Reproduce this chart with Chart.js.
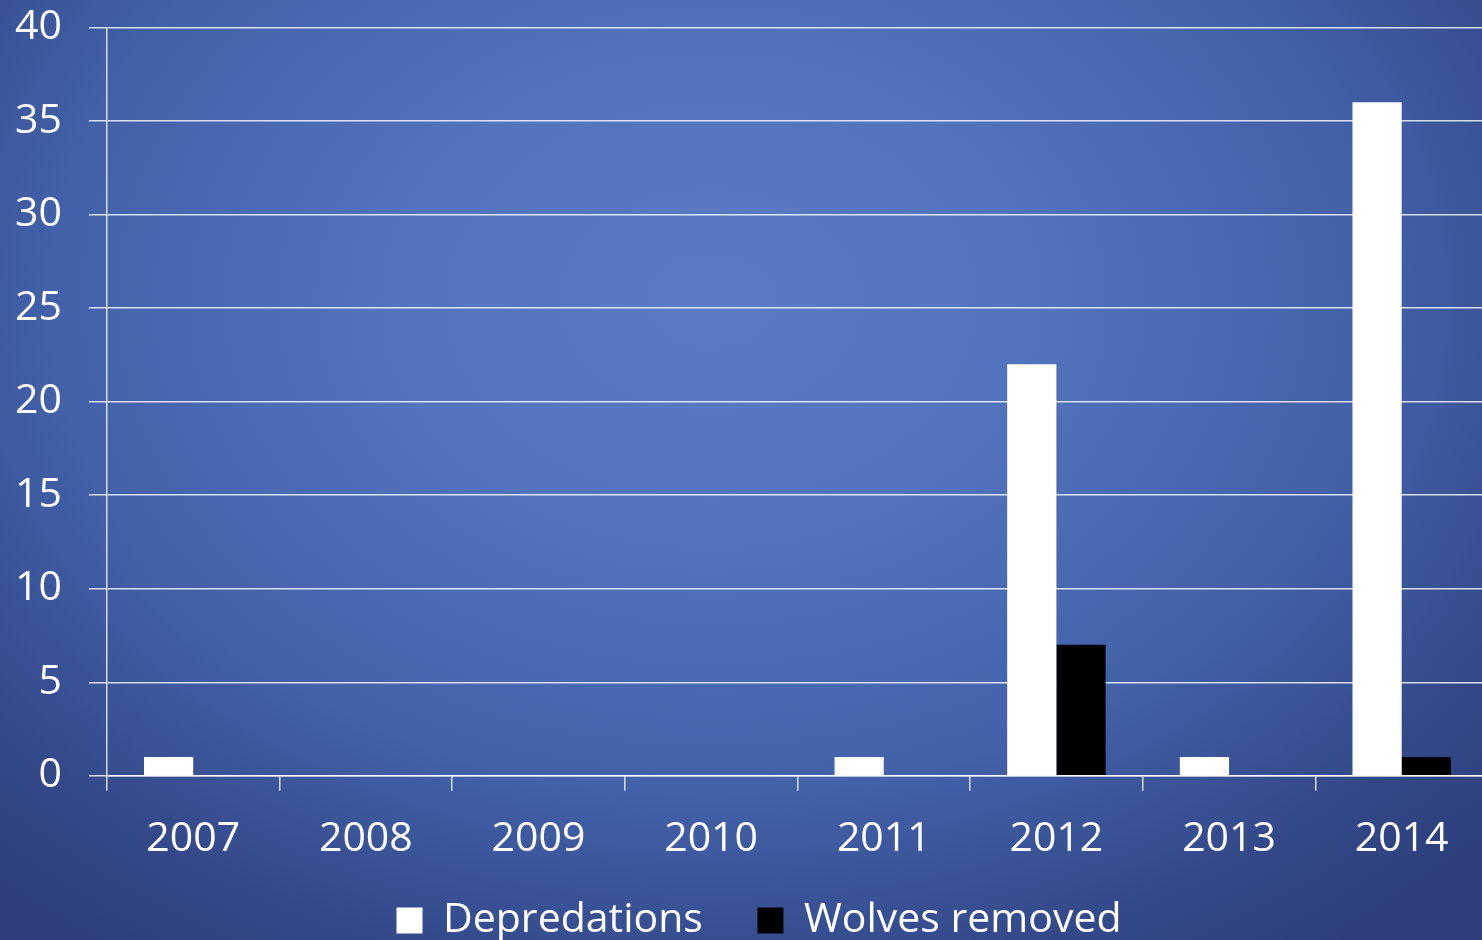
<!DOCTYPE html>
<html>
<head>
<meta charset="utf-8">
<script src="https://cdn.jsdelivr.net/npm/chart.js@4.4.0/dist/chart.umd.min.js"></script>
<style>
  html, body { margin: 0; padding: 0; }
  body {
    width: 1482px; height: 940px; overflow: hidden;
    background: radial-gradient(ellipse 72% 85% at 48% 32%, #5a7bc4 0%, #5273bd 30%, #4261a9 62%, #34498a 85%, #2c3f7c 100%);
  }
  /* plot area runs slightly past the right edge in the picture */
  #wrap { position: relative; width: 1488px; height: 940px; }
</style>
</head>
<body>
<div id="wrap"><canvas id="chart"></canvas></div>
<script>
const years = ['2007', '2008', '2009', '2010', '2011', '2012', '2013', '2014'];
const depredations = [1, 0, 0, 0, 1, 22, 1, 36];
const wolvesRemoved = [0, 0, 0, 0, 0, 7, 0, 1];

const fontFamily = '"Open Sans", "DejaVu Sans", sans-serif';
const gridColor = 'rgba(255,255,255,0.8)';

// the legend in the picture sits a bit right of centre
const legendShift = {
    id: 'legendShift',
    afterLayout(chart) {
        chart.legend.left += 21;
        chart.legend.right += 21;
    }
};

const ctx = document.getElementById('chart').getContext('2d');
new Chart(ctx, {
    type: 'bar',
    data: {
        labels: years,
        datasets: [
            {
                label: 'Depredations    ',
                backgroundColor: '#ffffff',
                borderWidth: 0,
                data: depredations
            },
            {
                label: 'Wolves removed',
                backgroundColor: '#000000',
                borderWidth: 0,
                data: wolvesRemoved
            }
        ]
    },
    options: {
        responsive: true,
        maintainAspectRatio: false,
        animation: false,
        layout: { padding: { left: -12, right: 0, top: 0, bottom: -11 } },
        datasets: {
            bar: { categoryPercentage: 0.57, barPercentage: 1.0 }
        },
        plugins: {
            tooltip: { enabled: false },
            legend: {
                position: 'bottom',
                labels: {
                    color: '#ffffff',
                    boxWidth: 26,
                    boxHeight: 26,
                    padding: 12,
                    font: { family: fontFamily, size: 41 }
                }
            }
        },
        scales: {
            x: {
                grid: {
                    display: true,
                    drawOnChartArea: false,
                    drawTicks: true,
                    tickLength: 15,
                    color: gridColor,
                    lineWidth: 1.5
                },
                border: { display: true, color: gridColor, width: 1.5 },
                ticks: {
                    color: '#ffffff',
                    padding: 24,
                    font: { family: fontFamily, size: 41 }
                }
            },
            y: {
                min: 0,
                max: 40,
                grid: {
                    color: gridColor,
                    lineWidth: 1.5,
                    tickLength: 18
                },
                border: { display: true, color: gridColor, width: 1.5 },
                ticks: {
                    stepSize: 5,
                    color: '#ffffff',
                    padding: 27,
                    font: { family: fontFamily, size: 41, lineHeight: 0.02 }
                }
            }
        }
    },
    plugins: [legendShift]
});
</script>
</body>
</html>
